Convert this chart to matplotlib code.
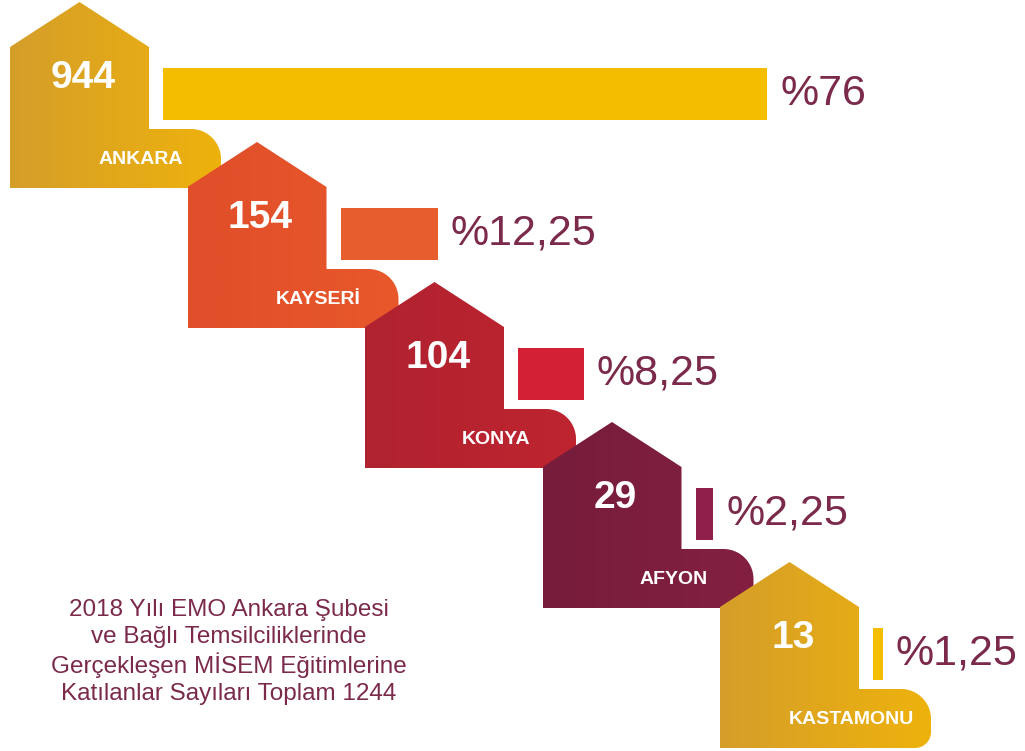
import numpy as np
import matplotlib.pyplot as plt
from matplotlib.path import Path
from matplotlib.patches import PathPatch
from matplotlib.colors import LinearSegmentedColormap

plt.rcParams['font.family'] = ['Liberation Sans', 'DejaVu Sans']

# veriler
sehirler = ["ANKARA", "KAYSERİ", "KONYA", "AFYON", "KASTAMONU"]
katilimci = [944, 154, 104, 29, 13]
yuzde = [76, 12.25, 8.25, 2.25, 1.25]
yuzde_etiket = ["%76", "%12,25", "%8,25", "%2,25", "%1,25"]
ev_renk_sol = ["#D59E2A", "#E04E2A", "#B0222F", "#771C3B", "#D59E2A"]
ev_renk_sag = ["#EEB20C", "#E8582A", "#BE2530", "#832041", "#EEB20C"]
cubuk_renk = ["#F5BD00", "#E85D2C", "#D42035", "#8E2049", "#F5BD00"]
baslik = ("2018 Yılı EMO Ankara Şubesi\nve Bağlı Temsilciliklerinde\n"
          "Gerçekleşen MİSEM Eğitimlerine\nKatılanlar Sayıları Toplam 1244")
yazi_renk = "#7B2A4C"

fig = plt.figure(figsize=(10.25, 7.51), dpi=100)
ax = fig.add_axes([0, 0, 1, 1])
ax.set_xlim(0, 1025)
ax.set_ylim(751, 0)
ax.axis('off')

w, tw, roof = 139, 72, 45
r1, r2 = 30, 16


def arc(cx, cy, r, a0, a1, n=20):
    t = np.linspace(np.radians(a0), np.radians(a1), n)
    return list(zip(cx + r * np.cos(t), cy + r * np.sin(t)))


for i, ad in enumerate(sehirler):
    x0 = 10 + i * 177.5
    taban = 188 + i * 140
    sacak = taban - 141
    ust = taban - 59
    sag = x0 + w + tw
    pts = [(x0, taban), (x0, sacak), (x0 + w / 2, sacak - roof), (x0 + w, sacak),
           (x0 + w, ust), (sag - r1, ust)]
    pts += arc(sag - r1, ust + r1, r1, -90, 0)
    pts += arc(sag - r2, taban - r2, r2, 0, 90)
    pts += [(x0, taban)]
    yol = Path(pts, closed=True)
    patch = PathPatch(yol, facecolor='none', edgecolor='none')
    ax.add_patch(patch)
    cmap = LinearSegmentedColormap.from_list('g' + str(i), [ev_renk_sol[i], ev_renk_sag[i]])
    grad = np.linspace(0, 1, 256).reshape(1, -1)
    im = ax.imshow(grad, cmap=cmap, extent=(x0, sag, taban, sacak - roof),
                   aspect='auto', zorder=2 + i)
    im.set_clip_path(patch)

    ax.text(x0 + 73, sacak + 31, str(katilimci[i]), color='white', fontsize=28,
            fontweight='bold', ha='center', va='center', zorder=10)
    ax.text(x0 + 131, taban - 28, ad, color='white', fontsize=14,
            fontweight='bold', ha='center', va='center', zorder=10)

# yuzde cubuklari
sol = [10 + i * 177.5 + w + 14 for i in range(len(yuzde))]
ymer = [188 + i * 140 - 141 + 47 for i in range(len(yuzde))]
uzun = [v * 7.95 for v in yuzde]
ax.barh(ymer, uzun, left=sol, height=52, color=cubuk_renk, zorder=1)
for s, u, y, e in zip(sol, uzun, ymer, yuzde_etiket):
    ax.text(s + u + 13, y, e, color=yazi_renk, fontsize=31, ha='left',
            va='center', zorder=10)

ax.text(229, 652, baslik, color=yazi_renk, fontsize=17.5, ha='center',
        va='center', multialignment='center', linespacing=1.25)

fig.savefig('out.png', dpi=100)
